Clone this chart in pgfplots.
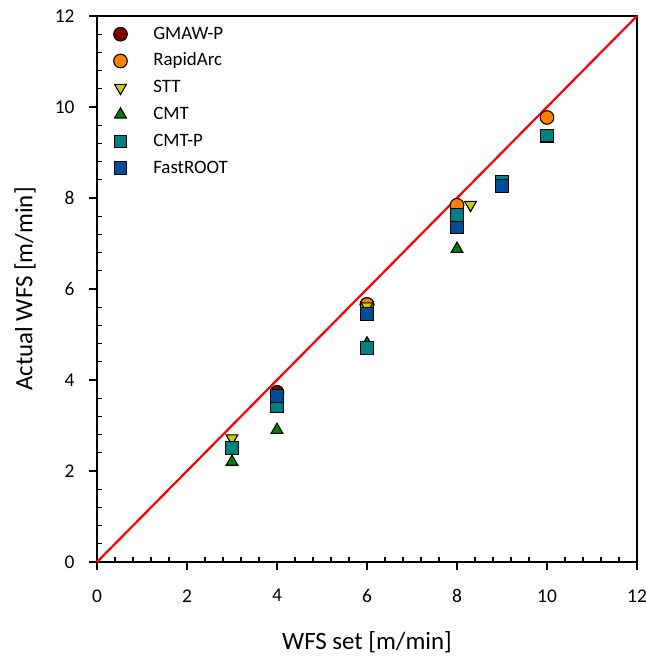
\documentclass[border=0pt]{standalone}
\usepackage{pgfplots}
\pgfplotsset{compat=1.18}
\usepackage{fontspec}
\setmainfont{Carlito}
\definecolor{cGMAW}{HTML}{7F0000}
\definecolor{cRapid}{HTML}{FF7F00}
\definecolor{cSTT}{HTML}{CCCC00}
\definecolor{cCMT}{HTML}{008000}
\definecolor{cCMTP}{HTML}{008080}
\definecolor{cFast}{HTML}{004C99}
\begin{document}
\begin{tikzpicture}
\begin{axis}[
  scale only axis,
  width=540bp, height=546bp,
  xmin=0, xmax=12, ymin=0, ymax=12,
  xtick={0,2,...,12}, ytick={0,2,...,12},
  minor tick num=0,
  tick align=outside,
  major tick length=8bp,
  xtick pos=left, ytick pos=left,
  extra x ticks={0.4,0.8,1.2,1.6,2.4,2.8,3.2,3.6,4.4,4.8,5.2,5.6,6.4,6.8,7.2,7.6,8.4,8.8,9.2,9.6,10.4,10.8,11.2,11.6},
  extra y ticks={0.4,0.8,1.2,1.6,2.4,2.8,3.2,3.6,4.4,4.8,5.2,5.6,6.4,6.8,7.2,7.6,8.4,8.8,9.2,9.6,10.4,10.8,11.2,11.6},
  extra x tick labels={}, extra y tick labels={},
  extra x tick style={major tick length=-5bp},
  extra y tick style={major tick length=-5bp},
  axis line style={line width=1.3bp},
  every tick/.style={black, line width=1.1bp},
  /pgf/number format/assume math mode=true,
  ticklabel style={font=\fontsize{19.5}{23}\selectfont},
  xticklabel style={yshift=-16bp},
  yticklabel style={xshift=-11bp},
  xlabel={WFS set [m/min]},
  ylabel={Actual WFS [m/min]},
  label style={font=\fontsize{25}{30}\selectfont},
  xlabel style={at={(axis description cs:0.5,-0.1465)}, anchor=center},
  ylabel style={at={(axis description cs:-0.1333,0.5)}, anchor=center},
  legend style={draw=none, fill=none, at={(0,1)}, anchor=north west,
    xshift=13.5bp, yshift=-7bp,
    font=\fontsize{19}{22}\selectfont, row sep=8.8bp,
    nodes={inner sep=0pt, text height=14bp, text depth=4bp},
    legend cell align=left},
  legend image code/.code={\draw[#1] plot coordinates {(0cm,0cm)};},
  every axis plot/.append style={only marks, mark size=6.8bp, line width=1.1bp},
  clip=false,
]
\addplot[mark=*, draw=black, fill=cGMAW] coordinates {(4,3.73) (6,5.66)};
\addlegendentry{\hspace{26bp}GMAW-P}
\addplot[mark=*, draw=black, fill=cRapid] coordinates {(6,5.66) (8,7.84) (10,9.77)};
\addlegendentry{\hspace{26bp}RapidArc}
\addplot[mark=triangle*, mark options={rotate=180}, draw=black, fill=cSTT] coordinates {(3,2.72) (6,5.62) (8.3,7.85)};
\addlegendentry{\hspace{26bp}STT}
\addplot[mark=triangle*, draw=black, fill=cCMT] coordinates {(3,2.2) (4,2.9) (6,4.8) (8,6.88)};
\addlegendentry{\hspace{26bp}CMT}
\addplot[mark=square*, mark size=6.3bp, draw=black, fill=cCMTP] coordinates {(3,2.5) (4,3.42) (6,4.7) (8,7.63) (9,8.35) (10,9.37)};
\addlegendentry{\hspace{26bp}CMT-P}
\addplot[mark=square*, mark size=6.3bp, draw=black, fill=cFast] coordinates {(4,3.65) (6,5.45) (8,7.35) (9,8.26)};
\addlegendentry{\hspace{26bp}FastROOT}
\addplot[red, line width=2.2bp, no marks, forget plot, sharp plot] coordinates {(0,0) (12,12)};
\end{axis}
\pgfresetboundingbox
\path ([shift={(-97bp,-97bp)}]current axis.south west) rectangle ([shift={(9bp,16bp)}]current axis.north east);
\end{tikzpicture}
\end{document}
